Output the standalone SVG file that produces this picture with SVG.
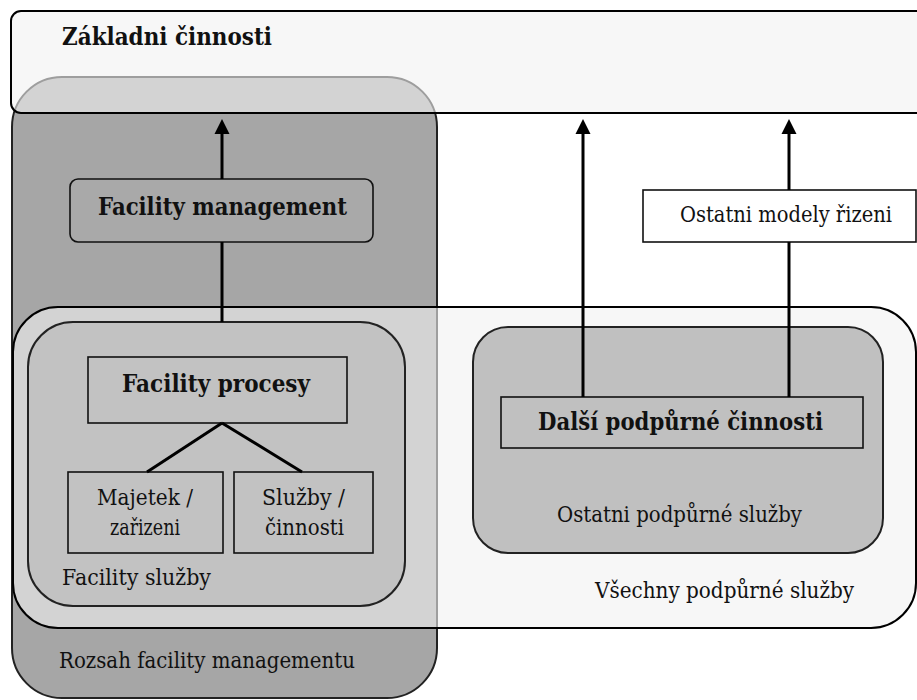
<svg xmlns="http://www.w3.org/2000/svg" width="917" height="700" viewBox="0 0 917 700">
  <defs>
    <!-- upward arrowhead, tip at origin -->
    <path id="head" d="M0,0 L7.5,15 L-7.5,15 z" fill="#000"/>
  </defs>
  <style>
    text { font-family: "DejaVu Serif", "Liberation Serif", serif; fill: #111; }
    .b { font-weight: bold; font-size: 24px; }
    .r { font-size: 22px; }
    .veil { fill: #f1f1f1; fill-opacity: 0.6; stroke: #000; stroke-width: 2; }
    .zone { stroke: #222; stroke-width: 2; }
    .box { stroke: #111; stroke-width: 1.6; }
    .link { stroke: #000; stroke-width: 3; fill: none; }
  </style>

  <rect width="917" height="700" fill="#fff"/>

  <!-- scope of facility management (dark area) -->
  <g id="rozsah">
    <rect class="zone" x="12" y="77" width="425" height="621" rx="50" ry="50" fill="#a6a6a6" stroke="#333"/>
    <text class="r" x="59" y="668" textLength="296" lengthAdjust="spacingAndGlyphs">Rozsah facility managementu</text>
  </g>

  <!-- core activities band -->
  <g id="zakladni">
    <rect class="veil" x="11" y="11" width="930" height="102" rx="10" ry="10"/>
    <text class="b" x="62" y="45" textLength="210" lengthAdjust="spacingAndGlyphs">Základni činnosti</text>
  </g>

  <!-- all support services -->
  <g id="vsechny">
    <rect class="veil" x="13" y="307" width="903" height="321" rx="45" ry="45"/>
    <text class="r" x="595" y="598" textLength="259" lengthAdjust="spacingAndGlyphs">Všechny podpůrné služby</text>
  </g>

  <!-- facility services -->
  <g id="facility-sluzby">
    <rect class="zone" x="28" y="322" width="377" height="284" rx="45" ry="45" fill="#c2c2c2"/>
    <text class="r" x="62" y="585" textLength="149" lengthAdjust="spacingAndGlyphs">Facility služby</text>
  </g>

  <!-- other support services -->
  <g id="ostatni-sluzby">
    <rect class="zone" x="473" y="327" width="410" height="226" rx="35" ry="35" fill="#c0c0c0"/>
    <text class="r" x="557" y="522" textLength="245" lengthAdjust="spacingAndGlyphs">Ostatni podpůrné služby</text>
  </g>

  <g id="facility-management">
    <rect class="box" x="70" y="179" width="303" height="63" rx="8" ry="8" fill="#a9a9a9"/>
    <text class="b" x="98" y="215" textLength="249" lengthAdjust="spacingAndGlyphs">Facility management</text>
  </g>

  <g id="facility-procesy">
    <rect class="box" x="88" y="357" width="259" height="66" fill="#c2c2c2"/>
    <text class="b" x="122" y="392" textLength="188" lengthAdjust="spacingAndGlyphs">Facility procesy</text>
  </g>

  <g id="majetek">
    <rect class="box" x="68" y="472" width="155" height="81" fill="#c2c2c2"/>
    <text class="r" x="97" y="505" textLength="96" lengthAdjust="spacingAndGlyphs">Majetek /</text>
    <text class="r" x="110" y="535" textLength="70" lengthAdjust="spacingAndGlyphs">zařizeni</text>
  </g>

  <g id="sluzby">
    <rect class="box" x="234" y="472" width="139" height="81" fill="#c2c2c2"/>
    <text class="r" x="262" y="505" textLength="83" lengthAdjust="spacingAndGlyphs">Služby /</text>
    <text class="r" x="265" y="535" textLength="79" lengthAdjust="spacingAndGlyphs">činnosti</text>
  </g>

  <g id="dalsi-cinnosti">
    <rect class="box" x="501" y="397" width="362" height="51" fill="#c0c0c0"/>
    <text class="b" x="538" y="430" textLength="285" lengthAdjust="spacingAndGlyphs">Další podpůrné činnosti</text>
  </g>

  <g id="ostatni-modely">
    <rect class="box" x="643" y="190" width="273" height="52" fill="#fff"/>
    <text class="r" x="680" y="222" textLength="212" lengthAdjust="spacingAndGlyphs">Ostatni modely řizeni</text>
  </g>

  <!-- connectors -->
  <g id="connectors">
    <line class="link" x1="222" y1="179" x2="222" y2="130"/>
    <use href="#head" x="222" y="119"/>
    <line class="link" x1="222" y1="242" x2="222" y2="322"/>
    <line class="link" x1="222" y1="423" x2="147" y2="472"/>
    <line class="link" x1="222" y1="423" x2="302" y2="472"/>
    <line class="link" x1="583" y1="397" x2="583" y2="130"/>
    <use href="#head" x="583" y="119"/>
    <line class="link" x1="789" y1="397" x2="789" y2="242"/>
    <line class="link" x1="789" y1="190" x2="789" y2="130"/>
    <use href="#head" x="789" y="119"/>
  </g>
</svg>
